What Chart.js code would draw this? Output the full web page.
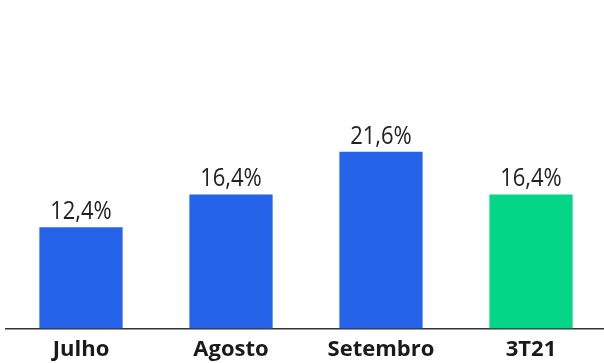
<!DOCTYPE html>
<html>
<head>
<meta charset="utf-8">
<script src="https://cdn.jsdelivr.net/npm/chart.js@4/dist/chart.umd.min.js"></script>
<style>
  html, body { margin: 0; padding: 0; background: #fff; overflow: hidden; }
  #wrap { width: 606px; height: 363px; position: relative; }
</style>
</head>
<body>
<div id="wrap"><canvas id="chart"></canvas></div>
<script>
const categories = ["Julho", "Agosto", "Setembro", "3T21"];
const values = [12.4, 16.4, 21.6, 16.4];
const barColors = ["#2463EA", "#2463EA", "#2463EA", "#04D688"];

// draws the value above each bar, "12,4%" style (slightly tall glyphs like the source)
const valueLabels = {
    id: "valueLabels",
    afterDatasetsDraw(chart) {
        const ctx = chart.ctx;
        const meta = chart.getDatasetMeta(0);
        meta.data.forEach((bar, i) => {
            const txt = values[i].toFixed(1).replace(".", ",") + "%";
            ctx.save();
            ctx.font = "22px 'Open Sans'";
            ctx.fillStyle = "#222";
            ctx.textAlign = "center";
            ctx.textBaseline = "alphabetic";
            ctx.translate(bar.x, bar.y - 8);
            ctx.scale(1, 1.12);
            ctx.fillText(txt, 0, 0);
            ctx.restore();
        });
    },
};

new Chart(document.getElementById("chart"), {
    type: "bar",
    data: {
        labels: categories,
        datasets: [
            {
                data: values,
                backgroundColor: barColors,
                categoryPercentage: 1,
                barPercentage: 0.555,
            },
        ],
    },
    options: {
        responsive: true,
        maintainAspectRatio: false,
        animation: false,
        layout: { padding: { top: 34, left: 6, right: 0, bottom: -8 } },
        plugins: { legend: { display: false }, tooltip: { enabled: false } },
        scales: {
            x: {
                grid: { display: false, drawTicks: false },
                border: { display: true, color: "#333", width: 1.5 },
                ticks: {
                    color: "#1a1a1a",
                    padding: 8,
                    font: { family: "'Open Sans'", size: 22, weight: "bold", lineHeight: 1.2 },
                },
            },
            y: {
                display: false,
                min: 0,
                max: 36,
            },
        },
    },
    plugins: [valueLabels],
});
</script>
</body>
</html>
